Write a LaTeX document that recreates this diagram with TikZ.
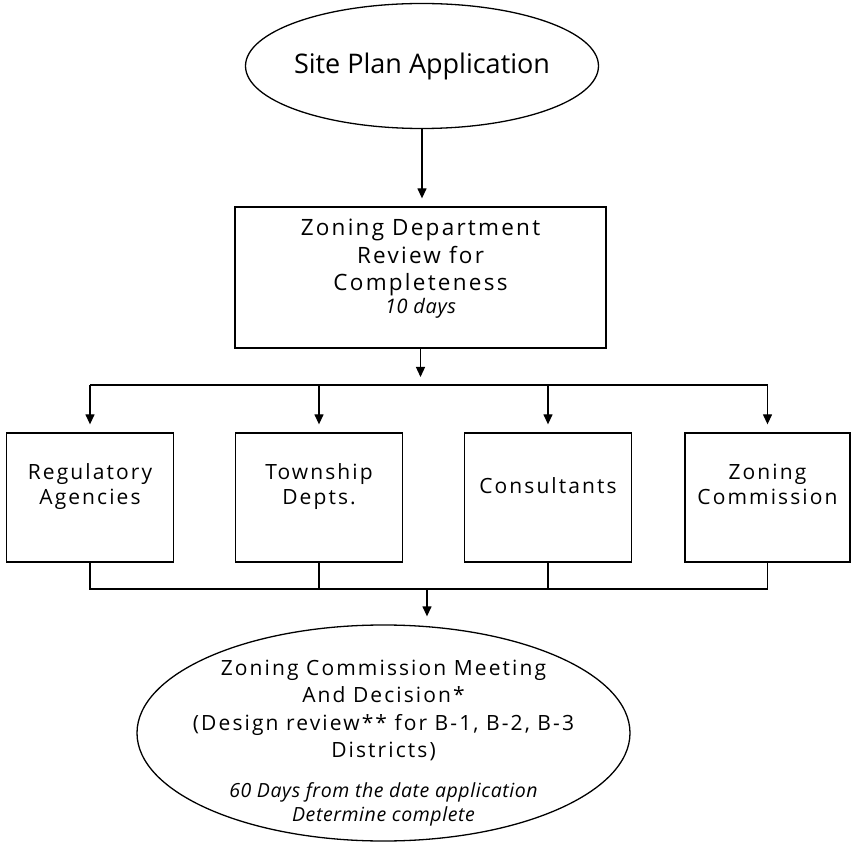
\documentclass[tikz,border=0pt]{standalone}
\usepackage{fontspec}
\setmainfont[LetterSpace=10]{Open Sans}
\newfontfamily\titlefont{Open Sans}
\newfontfamily\notefont[LetterSpace=3]{Open Sans}
\usepackage{tikz}
\usetikzlibrary{arrows.meta,shapes.geometric}
\tikzstyle{flowline} = [line width=1.3pt]
\tikzstyle{flowarrow} = [flowline,-{Triangle[width=9pt,length=10pt]},shorten >=8pt]
\tikzstyle{stepoval} = [draw,ellipse,flowline,inner sep=0pt]
\tikzstyle{stepbox} = [draw,rectangle,flowline,inner sep=0pt]
\newcommand{\boxtext}[2][5pt]{\makebox[0pt]{\raisebox{#1}[0pt][0pt]{\begin{tabular}{@{}c@{}}#2\end{tabular}}}}
\newcommand{\notetext}[2][19.5]{{\notefont\itshape\fontsize{#1}{24}\selectfont #2}}

\begin{document}
\begin{tikzpicture}[x=1pt,y=-1pt]
    \useasboundingbox (0,0) rectangle (852,842);
    \tikzstyle{boxfont} = [font=\fontsize{21}{24.5}\selectfont]
    \tikzstyle{smallbox} = [stepbox,boxfont,minimum width=167,minimum height=129]

    \node[stepoval,minimum width=353,minimum height=125,font=\titlefont\fontsize{27}{30}\selectfont] (app) at (422,66) {\makebox[0pt]{Site Plan Application}};

    \node[stepbox,font=\fontsize{22.5}{27.5}\selectfont,minimum width=371,minimum height=141] (review) at (420.5,277.5)
     {\boxtext[3pt]{Zoning Department\\Review for\\Completeness\\[-4.5pt]\notetext[20]{10 days}}};
    \draw[flowarrow] (app.south) -- (app.south |- review.north);

    % review bodies
    \node[smallbox] (reg)  at (90,497.5)  {\boxtext{Regulatory\\Agencies}};
    \node[smallbox] (twp)  at (319,497.5) {\boxtext{Township\\Depts.}};
    \node[smallbox] (cons) at (548,497.5) {\boxtext[4pt]{Consultants}};
    \node[smallbox,minimum width=165] (zcom) at (767.5,497.5) {\boxtext{Zoning\\Commission}};

    % upper bus
    \coordinate (topbus) at (420.5,385);
    \draw[flowarrow] (review.south) -- (review.south |- topbus);
    \draw[flowline] (reg.north |- topbus) -- (zcom.north |- topbus);
    \foreach \n in {reg,twp,cons,zcom}
     \draw[flowarrow] (\n.north |- topbus) -- (\n.north);

    \node[stepoval,font=\fontsize{21}{27.5}\selectfont,minimum width=493,minimum height=216] (meet) at (383.5,733)
     {\boxtext[-15pt]{Zoning Commission Meeting\\And Decision*\\(Design review** for B-1, B-2, B-3\\Districts)\\[12.5pt]
      \notetext{60 Days from the date application}\\[-3.5pt]
      \notetext{Determine complete}}};

    % lower bus
    \coordinate (lowbus) at (427,589);
    \draw[flowline] (reg.south) |- (lowbus) -| (zcom.south);
    \draw[flowline] (twp.south) -- (twp.south |- lowbus);
    \draw[flowline] (cons.south) -- (cons.south |- lowbus);
    \draw[flowarrow] (lowbus) -- (lowbus |- meet.north);
\end{tikzpicture}
\end{document}
